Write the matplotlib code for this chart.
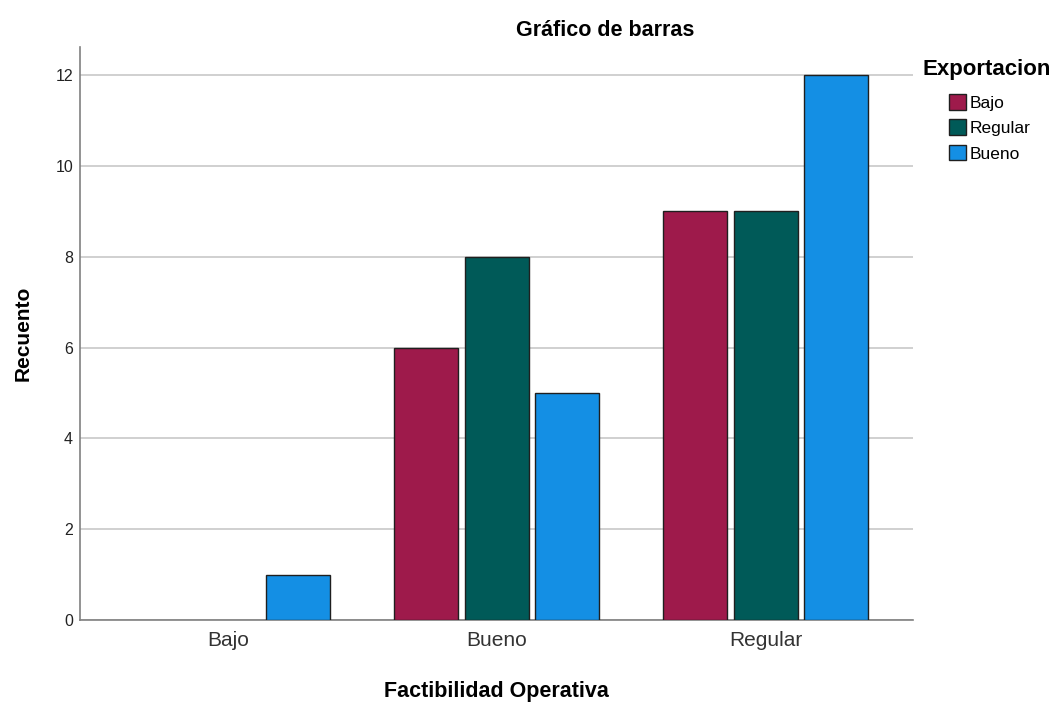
import numpy as np
import matplotlib
matplotlib.use('Agg')
import matplotlib.pyplot as plt
from matplotlib.patches import Patch

plt.rcParams['font.family'] = ['Liberation Sans', 'DejaVu Sans']

# Datos
categorias = ['Bajo', 'Bueno', 'Regular']
series = ['Bajo', 'Regular', 'Bueno']
cuenta_bajo = [0, 6, 9]
cuenta_regular = [0, 8, 9]
cuenta_bueno = [1, 5, 12]
colores = ['#9E1A4B', '#005A58', '#148FE4']
yticks = [0, 2, 4, 6, 8, 10, 12]

valores = [cuenta_bajo, cuenta_regular, cuenta_bueno]

fig = plt.figure(figsize=(10.63, 7.02), dpi=100)
ax = fig.add_axes([80/1063, 1 - 620/702, (913-80)/1063, (620-47)/702])

x = np.arange(len(categorias))
ancho = 0.238
paso = 0.262
for i, (vals, col) in enumerate(zip(valores, colores)):
    pos = x + (i - 1) * paso
    v = np.array(vals, dtype=float)
    mask = v > 0
    ax.bar(pos[mask], v[mask], width=ancho, color=col, edgecolor='#1f1f1f',
           linewidth=1.0, zorder=3)

ax.set_xlim(-0.55, 2.547)
ax.set_ylim(0, 12.62)
ax.set_yticks(yticks)
ax.set_yticklabels([str(t) for t in yticks], fontsize=11.5, color='#222222')
ax.set_xticks(x)
ax.set_xticklabels(categorias, fontsize=15, color='#333333')
ax.tick_params(axis='both', length=0)
ax.tick_params(axis='y', pad=5)
ax.tick_params(axis='x', pad=8)
ax.yaxis.grid(True, color='#c8c8c8', linewidth=1.2, zorder=0)
for s in ['top', 'right']:
    ax.spines[s].set_visible(False)
for s in ['left', 'bottom']:
    ax.spines[s].set_color('#808080')
    ax.spines[s].set_linewidth(1.2)

ax.set_ylabel('Recuento', fontsize=15, fontweight='bold', labelpad=16)
ax.set_xlabel('Factibilidad Operativa', fontsize=15.5, fontweight='bold', labelpad=22)
fig.text(605/1063, 1 - 31/702, 'Gráfico de barras', fontsize=15.5, fontweight='bold',
         ha='center', va='center')

# leyenda: titulo aparte para desplazar los cuadros
fig.text(922/1063, 1 - 69/702, 'Exportacion', fontsize=16, fontweight='bold',
         ha='left', va='center')
handles = [Patch(facecolor=c, edgecolor='#1f1f1f', label=s) for s, c in zip(series, colores)]
leg = fig.legend(handles=handles, loc='upper left',
                 bbox_to_anchor=(949/1063, 1 - 94/702), frameon=False,
                 fontsize=12.5, handlelength=1.0, handleheight=1.0, handletextpad=0.2,
                 labelspacing=0.5, borderpad=0, borderaxespad=0)

fig.savefig('out.png', dpi=100)
